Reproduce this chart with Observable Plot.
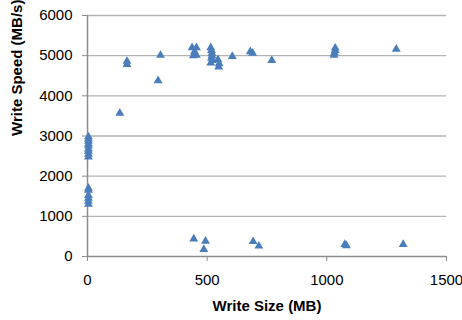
<!DOCTYPE html>
<html>
<head>
<meta charset="utf-8">
<script src="https://cdn.jsdelivr.net/npm/d3@7"></script>
<script src="https://cdn.jsdelivr.net/npm/@observablehq/plot@0.6"></script>
<style>
  html, body { margin: 0; padding: 0; background: #fff; }
  svg { font-family: "Liberation Sans", Arial, sans-serif; }
</style>
</head>
<body>
<div id="chart"></div>
<script>
// Write size (MB) and write speed (MB/s)
const writeSize = [
  4, 4, 4, 4, 4, 4, 4, 4, 4,
  4, 4, 4, 4, 4, 4,
  135, 165, 165, 295, 305,
  437, 455, 442, 455, 447,
  515, 518, 520, 520, 518, 522, 515,
  545, 550, 548,
  605, 680, 690, 770,
  1030, 1032, 1035, 1035, 1290,
  444, 493, 486, 692, 716, 1075, 1082, 1319
];
const writeSpeed = [
  2480, 2550, 2620, 2680, 2750, 2800, 2870, 2930, 2980,
  1300, 1380, 1450, 1520, 1650, 1700,
  3570, 4780, 4860, 4380, 5010,
  5200, 5200, 5000, 5010, 5100,
  5200, 5130, 5060, 5000, 4940, 4880, 4820,
  4900, 4800, 4720,
  4980, 5100, 5060, 4880,
  5010, 5070, 5130, 5190, 5160,
  440, 380, 175, 373, 260, 300, 270, 300
];
const xTicks = [0, 500, 1000, 1500];
const yTicks = [0, 1000, 2000, 3000, 4000, 5000, 6000];
const xTitle = "Write Size (MB)";
const yTitle = "Write Speed (MB/s)";

const data = writeSize.map((s, i) => ({size: s, speed: writeSpeed[i]}));

const chart = Plot.plot({
  width: 462,
  height: 320,
  marginLeft: 87,
  marginRight: 16,
  marginTop: 15,
  marginBottom: 64,
  style: {fontSize: "15px", fontFamily: "Liberation Sans, Arial, sans-serif", color: "#000", background: "#fff"},
  x: {domain: [0, 1500], ticks: xTicks, tickSize: 5, tickPadding: 13, label: null, tickFormat: d => String(d)},
  y: {domain: [0, 6000], ticks: yTicks, tickSize: 5, tickPadding: 10, label: null, tickFormat: d => String(d)},
  marks: [
    Plot.ruleY(yTicks.filter(d => d > 0), {stroke: "#b3b3b3", strokeWidth: 1.3, strokeOpacity: 1}),
    Plot.ruleX([0], {stroke: "#8c8c8c", strokeWidth: 1.5, strokeOpacity: 1}),
    Plot.ruleY([0], {stroke: "#8c8c8c", strokeWidth: 1.5, strokeOpacity: 1}),
    Plot.dot(data, {x: "size", y: "speed", symbol: "triangle", r: 3.3, fill: "#4a7ebb", stroke: "none"}),
    Plot.text([xTitle], {frameAnchor: "bottom", dy: 54, text: d => d, fontWeight: "bold", fontSize: 15, fill: "#000"}),
    Plot.text([yTitle], {frameAnchor: "left", dx: -70, rotate: -90, text: d => d, fontWeight: "bold", fontSize: 15, fill: "#000"})
  ]
});
chart.querySelectorAll('g[aria-label$="axis"] path, g[aria-label$="tick"] path').forEach(p => { p.setAttribute("stroke", "#8c8c8c"); });
document.getElementById("chart").appendChild(chart);
</script>
</body>
</html>
